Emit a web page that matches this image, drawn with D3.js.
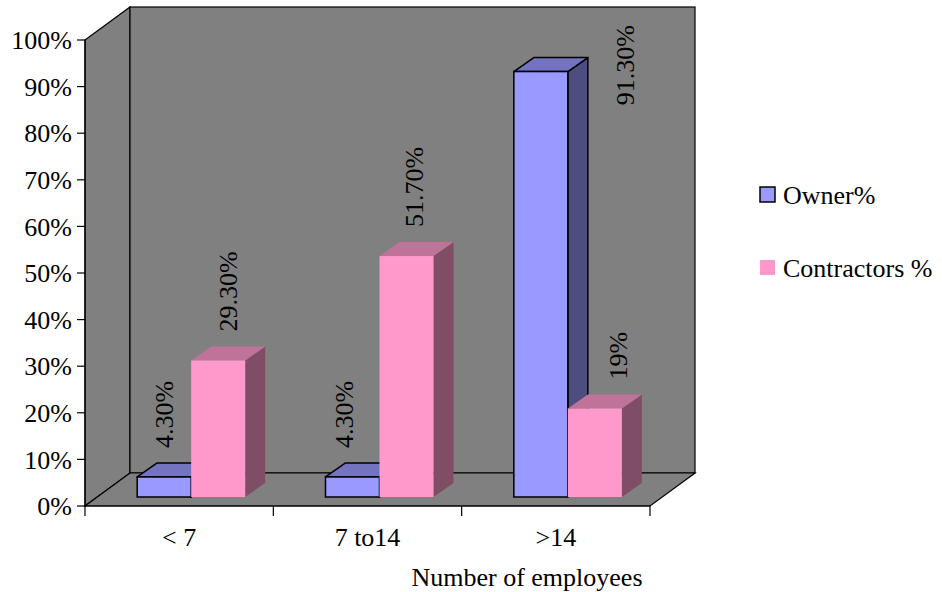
<!DOCTYPE html>
<html>
<head>
<meta charset="utf-8">
<script src="https://cdn.jsdelivr.net/npm/d3@7"></script>
<style>
  html, body { margin: 0; padding: 0; background: #ffffff; }
  svg { display: block; }
  svg text { font-family: "Liberation Serif", "Times New Roman", "DejaVu Serif", serif; font-size: 26px; fill: #000; }
</style>
</head>
<body>
<svg id="chart" width="942" height="592" font-family="Liberation Serif, Times New Roman, DejaVu Serif, serif"></svg>
<script>
// ---- data ----
const categories = ["< 7", "7 to14", ">14"];
const seriesNames = ["Owner%", "Contractors %"];
const ownerValues = [0.043, 0.043, 0.913];
const contractorValues = [0.293, 0.517, 0.19];
const ownerLabels = ["4.30%", "4.30%", "91.30%"];
const contractorLabels = ["29.30%", "51.70%", "19%"];
const yTickValues = [0, 0.1, 0.2, 0.3, 0.4, 0.5, 0.6, 0.7, 0.8, 0.9, 1.0];
const xAxisTitle = "Number of employees";

// ---- layout ----
const svg = d3.select("#chart");
const FONT = "'Liberation Serif', 'Times New Roman', 'DejaVu Serif', serif";
const frontLeft = 85, frontRight = 650, frontBottom = 506, frontTop = 40;
const depthX = 45, depthY = -33;          // full floor depth projection
const barFrontDX = 12, barFrontDY = -9;    // bars' front plane offset
const barDX = 20, barDY = -14;             // bar depth projection

const x = d3.scaleBand().domain(categories).range([frontLeft, frontRight]).padding(0);
const xs = d3.scaleBand().domain(seriesNames).range([0, x.bandwidth()]).paddingInner(0).paddingOuter(0.744);
const y = d3.scaleLinear().domain([0, 1]).range([frontBottom, frontTop]);

const colors = {
  "Owner%": { front: "#9999FF", top: "#7373BF", side: "#4D4D80", stroke: "#000" },
  "Contractors %": { front: "#FF99CC", top: "#BF7399", side: "#804D66", stroke: "none" }
};
const wallGray = "#808080";

const pts = a => a.map(p => p.join(",")).join(" ");
const addText = (sel) => sel.append("text").style("font-family", FONT).style("font-size", "26px").attr("fill", "#000");

// left wall
svg.append("polygon")
  .attr("points", pts([[frontLeft, y(1)], [frontLeft + depthX, y(1) + depthY], [frontLeft + depthX, y(0) + depthY], [frontLeft, y(0)]]))
  .attr("fill", wallGray).attr("stroke", "#000").attr("stroke-width", 1.2);
// back wall
svg.append("rect")
  .attr("x", frontLeft + depthX).attr("y", y(1) + depthY)
  .attr("width", frontRight - frontLeft).attr("height", y(0) - y(1))
  .attr("fill", wallGray).attr("stroke", "#000").attr("stroke-width", 1.2);
// floor
svg.append("polygon")
  .attr("points", pts([[frontLeft, y(0)], [frontRight, y(0)], [frontRight + depthX, y(0) + depthY], [frontLeft + depthX, y(0) + depthY]]))
  .attr("fill", wallGray).attr("stroke", "#000").attr("stroke-width", 1.2);

// y axis
const yAxisG = svg.append("g");
yAxisG.append("line").attr("x1", frontLeft).attr("x2", frontLeft).attr("y1", y(1)).attr("y2", y(0))
  .attr("stroke", "#000").attr("stroke-width", 1.2);
yTickValues.forEach(t => {
  yAxisG.append("line").attr("x1", frontLeft - 8).attr("x2", frontLeft).attr("y1", y(t)).attr("y2", y(t))
    .attr("stroke", "#000").attr("stroke-width", 1.2);
  addText(yAxisG).attr("x", frontLeft - 13).attr("y", y(t)).attr("dy", "0.35em")
    .attr("text-anchor", "end").text(d3.format(".0%")(t));
});

// x axis
const xAxisG = svg.append("g");
xAxisG.append("line").attr("x1", frontLeft).attr("x2", frontRight).attr("y1", y(0)).attr("y2", y(0))
  .attr("stroke", "#000").attr("stroke-width", 1.2);
const tickXs = categories.map(c => x(c)).concat([frontRight]);
tickXs.forEach(tx => {
  xAxisG.append("line").attr("x1", tx).attr("x2", tx).attr("y1", y(0)).attr("y2", y(0) + 10)
    .attr("stroke", "#000").attr("stroke-width", 1.2);
});
categories.forEach(c => {
  addText(xAxisG).attr("x", x(c) + x.bandwidth() / 2).attr("y", 546)
    .attr("text-anchor", "middle").text(c);
});
addText(svg).attr("x", 527).attr("y", 586).attr("text-anchor", "middle").text(xAxisTitle);

// bars
const seriesData = [
  { name: seriesNames[0], values: ownerValues, labels: ownerLabels },
  { name: seriesNames[1], values: contractorValues, labels: contractorLabels }
];
// small per-label horizontal nudges (layout only) to mimic the original label placement
const labelNudge = [[0, -9, 84], [10, 7, 23]];

categories.forEach((c, ci) => {
  seriesData.forEach((s, si) => {
    const col = colors[s.name];
    const x0 = x(c) + xs(s.name) + barFrontDX;
    const x1 = x0 + xs.bandwidth();
    const yb = y(0) + barFrontDY;
    const yt = y(s.values[ci]) + barFrontDY;
    const g = svg.append("g");
    const sw = col.stroke === "none" ? 0 : 1.5;
    g.append("polygon").attr("points", pts([[x1, yt], [x1 + barDX, yt + barDY], [x1 + barDX, yb + barDY], [x1, yb]]))
      .attr("fill", col.side).attr("stroke", col.stroke).attr("stroke-width", sw).attr("stroke-linejoin", "round");
    g.append("polygon").attr("points", pts([[x0, yt], [x1, yt], [x1 + barDX, yt + barDY], [x0 + barDX, yt + barDY]]))
      .attr("fill", col.top).attr("stroke", col.stroke).attr("stroke-width", sw).attr("stroke-linejoin", "round");
    g.append("rect").attr("x", x0).attr("y", yt).attr("width", x1 - x0).attr("height", yb - yt)
      .attr("fill", col.front).attr("stroke", col.stroke).attr("stroke-width", sw);
  });
});

// data labels
categories.forEach((c, ci) => {
  seriesData.forEach((s, si) => {
    const x0 = x(c) + xs(s.name) + barFrontDX;
    const cx = x0 + xs.bandwidth() / 2 + labelNudge[si][ci];
    const yt = y(s.values[ci]) + barFrontDY;
    const lbl = addText(svg).attr("text-anchor", "start").attr("dy", "0.35em").text(s.labels[ci]);
    let bottom = yt - 29;
    const len = lbl.node().getComputedTextLength();
    if (bottom - len < 10) bottom = 25 + len;
    lbl.attr("transform", `translate(${cx},${bottom}) rotate(-90)`);
  });
});

// legend
const legend = svg.append("g");
const legendYs = [195, 268];
seriesNames.forEach((n, i) => {
  const col = colors[n];
  legend.append("rect").attr("x", 760).attr("y", legendYs[i] - 8).attr("width", 15).attr("height", 15)
    .attr("fill", col.front).attr("stroke", col.stroke).attr("stroke-width", col.stroke === "none" ? 0 : 1.5);
  addText(legend).attr("x", 783).attr("y", legendYs[i]).attr("dy", "0.35em").text(n);
});
</script>
</body>
</html>
